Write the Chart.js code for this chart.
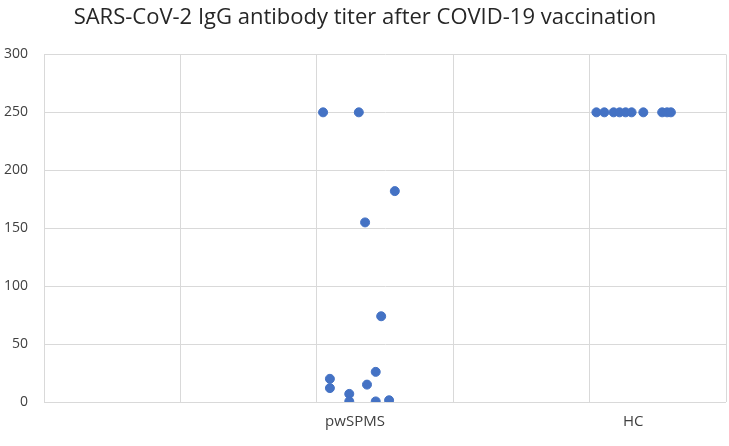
<!DOCTYPE html>
<html>
    <head>
        <title>SARS-CoV-2 IgG titer</title>
        <meta charset="utf-8">
        <script src="https://cdn.jsdelivr.net/npm/chart.js@4.4.0/dist/chart.umd.min.js"></script>
        <style>
            body { margin: 0; background: #fff; }
            .chart-container { position: relative; width: 729px; height: 446px; }
        </style>
    </head>
    <body>
        <div class="chart-container">
            <canvas id="myChart"></canvas>
        </div>
        <script>
            // group labels and where they sit on the x axis
            var categories = ['pwSPMS', 'HC'];
            var categoryPos = [1.14, 2.16];

            // pwSPMS: jittered x, titer
            var pwspmsX = [1.023, 1.154, 1.286, 1.177, 1.236, 1.216, 1.048, 1.048, 1.184, 1.119, 1.119, 1.216, 1.265];
            var pwspmsY = [250, 250, 182, 155, 74, 26, 20, 12, 15, 7, 0.5, 0.5, 1.5];

            // HC: jittered x, titer
            var hcX = [2.025, 2.054, 2.088, 2.110, 2.132, 2.154, 2.197, 2.266, 2.284, 2.298];
            var hcY = [250, 250, 250, 250, 250, 250, 250, 250, 250, 250];

            var yTicks = [0, 50, 100, 150, 200, 250, 300];

            function pts(xs, ys) {
                return xs.map(function(x, i) { return {x: x, y: ys[i]}; });
            }

            // draws group names under the plot at their x positions
            var catLabels = {
                id: 'catLabels',
                afterDraw: function(chart) {
                    var ctx = chart.ctx, xs = chart.scales.x;
                    ctx.save();
                    ctx.font = '15px "Open Sans"';
                    ctx.fillStyle = '#404040';
                    ctx.textAlign = 'center';
                    ctx.textBaseline = 'middle';
                    categories.forEach(function(c, i) {
                        ctx.fillText(c, xs.getPixelForValue(categoryPos[i]), chart.chartArea.bottom + 20);
                    });
                    ctx.restore();
                }
            };

            var ctx = document.getElementById('myChart').getContext('2d');
            var chart = new Chart(ctx, {
                type: 'scatter',
                data: {
                    datasets: [{
                        label: 'pwSPMS',
                        data: pts(pwspmsX, pwspmsY),
                        backgroundColor: '#4472C4',
                        borderColor: '#4472C4',
                        pointRadius: 4.5
                    }, {
                        label: 'HC',
                        data: pts(hcX, hcY),
                        backgroundColor: '#4472C4',
                        borderColor: '#4472C4',
                        pointRadius: 4.5
                    }]
                },
                options: {
                    responsive: true,
                    maintainAspectRatio: false,
                    animation: false,
                    layout: { autoPadding: false, padding: { left: 4, right: 3, bottom: 44 } },
                    plugins: {
                        legend: { display: false },
                        tooltip: { enabled: false },
                        title: {
                            display: true,
                            text: 'SARS-CoV-2 IgG antibody titer after COVID-19 vaccination',
                            color: '#262626',
                            font: { family: 'Open Sans', size: 22, weight: 'normal' },
                            padding: { top: 5, bottom: 23 }
                        }
                    },
                    scales: {
                        x: {
                            type: 'linear',
                            min: 0,
                            max: 2.5,
                            ticks: { display: false, stepSize: 0.5 },
                            grid: { color: '#d9d9d9', drawTicks: false },
                            border: { display: false }
                        },
                        y: {
                            min: 0,
                            max: 300,
                            afterFit: function(s) { s.width = 40; },
                            afterBuildTicks: function(s) {
                                s.ticks = yTicks.map(function(v) { return {value: v}; });
                            },
                            ticks: {
                                color: '#404040',
                                padding: 16,
                                font: { family: 'Open Sans', size: 14 }
                            },
                            grid: { color: '#d9d9d9', drawTicks: false },
                            border: { color: '#d9d9d9' }
                        }
                    }
                },
                plugins: [catLabels]
            });
        </script>
    </body>
</html>
